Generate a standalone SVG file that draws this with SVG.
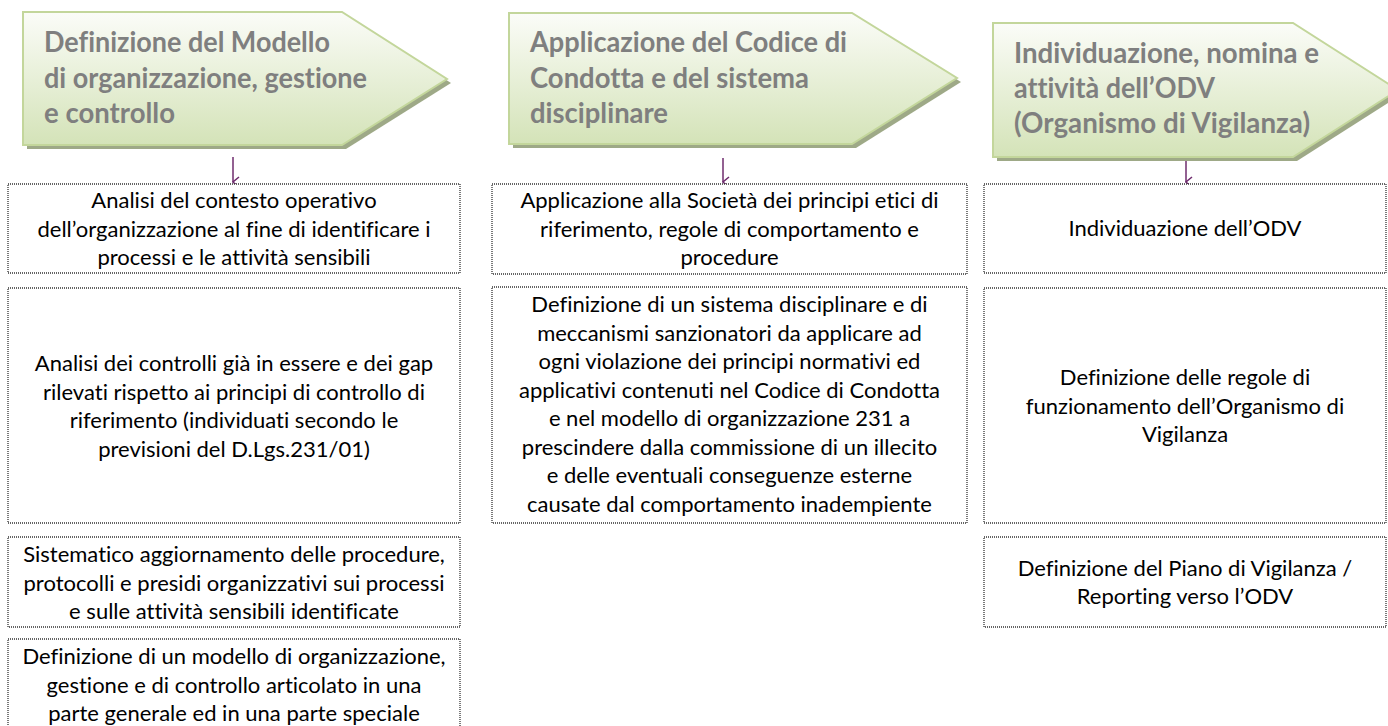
<svg xmlns="http://www.w3.org/2000/svg" width="1388" height="726" viewBox="0 0 1388 726">
<style>
.head{font-family:Lato,"Liberation Sans",sans-serif;font-weight:bold;font-size:28px;fill:#7f7f7f;font-variant-ligatures:none}
.body{font-family:Lato,"Liberation Sans",sans-serif;font-size:22px;fill:#000;text-anchor:middle;font-variant-ligatures:none}
.box{fill:#fff;stroke:#333;stroke-width:1.3;stroke-dasharray:1 1}
.pent{fill:url(#g);stroke:#c3d69b;stroke-width:2}
.shadow{fill:#8d9a72;opacity:0.85}
.conn{stroke:#6f2c6e;stroke-width:1.5;fill:none}
</style>
<defs>
<linearGradient id="g" x1="0" y1="0" x2="0" y2="1">
<stop offset="0" stop-color="#fbfcf8"/>
<stop offset="1" stop-color="#d4e3b8"/>
</linearGradient>
<marker id="ah" markerWidth="12" markerHeight="8" refX="6" refY="7" orient="auto-start-reverse" markerUnits="userSpaceOnUse" viewBox="0 0 12 8">
<path d="M1,1 L6,7 L11,1" fill="none" stroke="#6f2c6e" stroke-width="1.5"/>
</marker>
</defs>
<rect width="1388" height="726" fill="#fff"/>

<g id="phase1">
<polygon class="shadow" points="27,16 346,16 451,83 346,149 27,149"/>
<polygon class="pent" points="23,12 342,12 447,79 342,145 23,145"/>
<text class="head"><tspan x="44" y="52" textLength="286" lengthAdjust="spacingAndGlyphs">Definizione del Modello</tspan><tspan x="44" y="88" textLength="323" lengthAdjust="spacingAndGlyphs">di organizzazione, gestione</tspan><tspan x="44" y="123" textLength="131" lengthAdjust="spacingAndGlyphs">e controllo</tspan></text>
</g>
<g id="phase2">
<polygon class="shadow" points="513,17 856,17 961,82 856,148 513,148"/>
<polygon class="pent" points="509,13 852,13 957,78 852,144 509,144"/>
<text class="head"><tspan x="530" y="52" textLength="317" lengthAdjust="spacingAndGlyphs">Applicazione del Codice di</tspan><tspan x="530" y="88" textLength="279" lengthAdjust="spacingAndGlyphs">Condotta e del sistema</tspan><tspan x="530" y="123" textLength="138" lengthAdjust="spacingAndGlyphs">disciplinare</tspan></text>
</g>
<g id="phase3">
<polygon class="shadow" points="997,27 1297,27 1402,94 1297,161 997,161"/>
<polygon class="pent" points="993,23 1293,23 1398,90 1293,157 993,157"/>
<text class="head"><tspan x="1014" y="63" textLength="305" lengthAdjust="spacingAndGlyphs">Individuazione, nomina e</tspan><tspan x="1014" y="98" textLength="201" lengthAdjust="spacingAndGlyphs">attività dell’ODV</tspan><tspan x="1014" y="133" textLength="296" lengthAdjust="spacingAndGlyphs">(Organismo di Vigilanza)</tspan></text>
</g>

<g id="connectors">
<line class="conn" x1="233" y1="157" x2="233" y2="182" marker-end="url(#ah)"/>
<line class="conn" x1="723" y1="158" x2="723" y2="182" marker-end="url(#ah)"/>
<line class="conn" x1="1186" y1="161" x2="1186" y2="182" marker-end="url(#ah)"/>
</g>

<g id="c1b1">
<rect class="box" x="8" y="184" width="452" height="89"/>
<text class="body"><tspan x="234" y="208">Analisi del contesto operativo</tspan><tspan x="234" y="236.5">dell’organizzazione al fine di identificare i</tspan><tspan x="234" y="265">processi e le attività sensibili</tspan></text>
</g>
<g id="c1b2">
<rect class="box" x="8" y="288" width="452" height="235"/>
<text class="body"><tspan x="234" y="371">Analisi dei controlli già in essere e dei gap</tspan><tspan x="234" y="399.5">rilevati rispetto ai principi di controllo di</tspan><tspan x="234" y="428">riferimento (individuati secondo le</tspan><tspan x="234" y="456.5">previsioni del D.Lgs.231/01)</tspan></text>
</g>
<g id="c1b3">
<rect class="box" x="8" y="537" width="452" height="90"/>
<text class="body"><tspan x="234" y="562">Sistematico aggiornamento delle procedure,</tspan><tspan x="234" y="590.5">protocolli e presidi organizzativi sui processi</tspan><tspan x="234" y="619">e sulle attività sensibili identificate</tspan></text>
</g>
<g id="c1b4">
<rect class="box" x="8" y="639" width="452" height="90"/>
<text class="body"><tspan x="234" y="664">Definizione di un modello di organizzazione,</tspan><tspan x="234" y="692.5">gestione e di controllo articolato in una</tspan><tspan x="234" y="721">parte generale ed in una parte speciale</tspan></text>
</g>

<g id="c2b1">
<rect class="box" x="492" y="184" width="475" height="90"/>
<text class="body"><tspan x="729.5" y="208">Applicazione alla Società dei principi etici di</tspan><tspan x="729.5" y="236.5">riferimento, regole di comportamento e</tspan><tspan x="729.5" y="265">procedure</tspan></text>
</g>
<g id="c2b2">
<rect class="box" x="492" y="287" width="475" height="236"/>
<text class="body"><tspan x="729.5" y="312">Definizione di un sistema disciplinare e di</tspan><tspan x="729.5" y="340.5">meccanismi sanzionatori da applicare ad</tspan><tspan x="729.5" y="369">ogni violazione dei principi normativi ed</tspan><tspan x="729.5" y="397.5">applicativi contenuti nel Codice di Condotta</tspan><tspan x="729.5" y="426">e nel modello di organizzazione 231 a</tspan><tspan x="729.5" y="454.5">prescindere dalla commissione di un illecito</tspan><tspan x="729.5" y="483">e delle eventuali conseguenze esterne</tspan><tspan x="729.5" y="511.5">causate dal comportamento inadempiente</tspan></text>
</g>

<g id="c3b1">
<rect class="box" x="984" y="184" width="402" height="89"/>
<text class="body"><tspan x="1185" y="236">Individuazione dell’ODV</tspan></text>
</g>
<g id="c3b2">
<rect class="box" x="984" y="288" width="402" height="235"/>
<text class="body"><tspan x="1185" y="385">Definizione delle regole di</tspan><tspan x="1185" y="413.5">funzionamento dell’Organismo di</tspan><tspan x="1185" y="442">Vigilanza</tspan></text>
</g>
<g id="c3b3">
<rect class="box" x="984" y="537" width="402" height="90"/>
<text class="body"><tspan x="1185" y="575.5">Definizione del Piano di Vigilanza /</tspan><tspan x="1185" y="604">Reporting verso l’ODV</tspan></text>
</g>
</svg>
